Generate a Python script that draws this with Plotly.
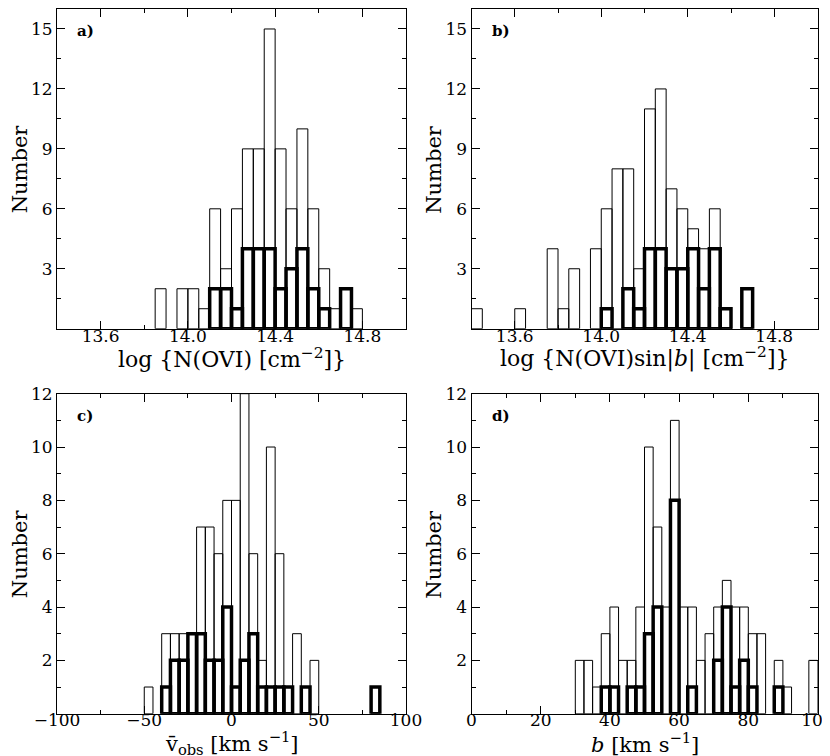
import plotly.graph_objects as go

# ---------------- data ----------------
# Panel a: log N(OVI)  (bin left edges, width 0.05)
a_left = [13.85, 13.90, 13.95, 14.00, 14.05, 14.10, 14.15, 14.20, 14.25, 14.30,
          14.35, 14.40, 14.45, 14.50, 14.55, 14.60, 14.65, 14.70, 14.75]
a_all = [2, 0, 2, 2, 1, 6, 3, 6, 9, 9, 15, 9, 6, 10, 6, 3, 1, 2, 1]
a_sub = [0, 0, 0, 0, 0, 2, 2, 1, 4, 4, 4, 2, 3, 4, 2, 1, 0, 2, 0]

# Panel b: log N(OVI) sin|b|  (width 0.05)
b_left = [13.40, 13.45, 13.50, 13.55, 13.60, 13.65, 13.70, 13.75, 13.80, 13.85,
          13.90, 13.95, 14.00, 14.05, 14.10, 14.15, 14.20, 14.25, 14.30, 14.35,
          14.40, 14.45, 14.50, 14.55, 14.60, 14.65]
b_all = [1, 0, 0, 0, 1, 0, 0, 4, 1, 3, 0, 4, 6, 8, 8, 3, 11, 12, 7, 6, 5, 4, 6, 1, 0, 2]
b_sub = [0, 0, 0, 0, 0, 0, 0, 0, 0, 0, 0, 0, 1, 0, 2, 1, 4, 4, 3, 3, 4, 2, 4, 1, 0, 2]

# Panel c: v_obs (width 5 km/s)
c_left = [-50, -45, -40, -35, -30, -25, -20, -15, -10, -5, 0, 5, 10, 15, 20, 25,
          30, 35, 40, 45, 80]
c_all = [1, 0, 3, 3, 3, 3, 7, 7, 6, 8, 8, 12, 6, 2, 10, 6, 1, 3, 1, 2, 1]
c_sub = [0, 0, 1, 2, 2, 3, 3, 2, 2, 4, 1, 2, 3, 1, 1, 1, 1, 0, 1, 0, 1]

# Panel d: b-value (width 2.5 km/s)
d_left = [30, 32.5, 35, 37.5, 40, 42.5, 45, 47.5, 50, 52.5, 55, 57.5, 60, 62.5,
          65, 67.5, 70, 72.5, 75, 77.5, 80, 82.5, 85, 87.5, 90, 97.5]
d_all = [2, 2, 1, 3, 4, 2, 2, 4, 10, 7, 4, 11, 4, 4, 2, 3, 4, 5, 4, 4, 3, 3, 0, 2, 1, 2]
d_sub = [0, 0, 0, 1, 1, 0, 1, 1, 3, 4, 0, 8, 0, 1, 0, 0, 2, 4, 1, 2, 1, 0, 0, 1, 0, 0]

# ---------------- layout helpers ----------------
W, H = 830, 756
SERIF = "DejaVu Serif"

def xdom(l, r):
    return [l / W, r / W]

def ydom(top, bottom):
    return [1 - bottom / H, 1 - top / H]

def nz(vals):
    # empty bins are not drawn
    return [v if v else None for v in vals]

panels = [
    dict(left=a_left, all=a_all, sub=a_sub, bw=0.05,
         px=(49, 398), py=(1, 320.7), xr=[13.4, 15.0],
         xt=[13.6, 14.0, 14.4, 14.8], xtt=["13.6", "14.0", "14.4", "14.8"], xminor=0.2,
         yr=[0, 16], yt=[3, 6, 9, 12, 15], yminor=1.5,
         xtitle="log {N(OVI) [cm<sup>−2</sup>]}", lab="a)", toff=29, tfs=22, lso=-8),
    dict(left=b_left, all=b_all, sub=b_sub, bw=0.05,
         px=(463.5, 809.5), py=(1, 320.7), xr=[13.4, 15.0],
         xt=[13.6, 14.0, 14.4, 14.8], xtt=["13.6", "14.0", "14.4", "14.8"], xminor=0.2,
         yr=[0, 16], yt=[3, 6, 9, 12, 15], yminor=1.5,
         xtitle="log {N(OVI)sin|<i>b</i>| [cm<sup>−2</sup>]}", lab="b)", toff=29, tfs=22, lso=-8),
    dict(left=c_left, all=c_all, sub=c_sub, bw=5,
         px=(49, 398), py=(385.7, 705.7), xr=[-100, 100],
         xt=[-100, -50, 0, 50, 100], xtt=["−100", "−50", "0", "50", "100"], xminor=25,
         yr=[0, 12], yt=[2, 4, 6, 8, 10, 12], yminor=1,
         xtitle="v\u0304<sub>obs</sub> [km s<sup>−1</sup>]", lab="c)", toff=29.5, tfs=21, lso=-9),
    dict(left=d_left, all=d_all, sub=d_sub, bw=2.5,
         px=(463.5, 809.5), py=(385.7, 705.7), xr=[0, 100],
         xt=[0, 20, 40, 60, 80, 100], xtt=["0", "20", "40", "60", "80", "100"], xminor=10,
         yr=[0, 12], yt=[2, 4, 6, 8, 10, 12], yminor=1,
         xtitle="<i>b</i> [km s<sup>−1</sup>]", lab="d)", toff=29.5, tfs=21, lso=-9),
]

fig = go.Figure()
layout = dict(
    width=W, height=H,
    margin=dict(l=0, r=0, t=0, b=0),
    paper_bgcolor="white", plot_bgcolor="white",
    showlegend=False, barmode="overlay",
    font=dict(family=SERIF, color="black"),
    annotations=[],
)

for i, p in enumerate(panels, start=1):
    xa = "x" if i == 1 else f"x{i}"
    ya = "y" if i == 1 else f"y{i}"
    fig.add_trace(go.Bar(
        x=p["left"], y=nz(p["all"]), width=p["bw"], offset=0,
        xaxis=xa, yaxis=ya,
        marker=dict(color="rgba(0,0,0,0)", line=dict(color="black", width=1)),
        hoverinfo="skip"))
    fig.add_trace(go.Bar(
        x=p["left"], y=nz(p["sub"]), width=p["bw"], offset=0,
        xaxis=xa, yaxis=ya,
        marker=dict(color="rgba(0,0,0,0)", line=dict(color="black", width=3.5)),
        hoverinfo="skip"))

    l, r = p["px"]
    t, b = p["py"]
    common = dict(showline=True, linecolor="black", linewidth=1, mirror="allticks",
                  ticks="inside", ticklen=8, tickwidth=1, tickcolor="black",
                  showgrid=False, zeroline=False, automargin=False,
                  tickfont=dict(family=SERIF, size=17, color="black"))
    layout["xaxis" if i == 1 else f"xaxis{i}"] = dict(
        common, domain=xdom(l, r), range=p["xr"], anchor=ya,
        tickmode="array", tickvals=p["xt"], ticktext=p["xtt"],
        ticklabelstandoff=p["lso"],
        minor=dict(ticks="inside", ticklen=4, tickcolor="black",
                   tickmode="linear", tick0=0, dtick=p["xminor"]))
    layout["yaxis" if i == 1 else f"yaxis{i}"] = dict(
        common, domain=ydom(t, b), range=p["yr"], anchor=xa,
        tickmode="array", tickvals=p["yt"], ticktext=[str(v) for v in p["yt"]],
        minor=dict(ticks="inside", ticklen=4, tickcolor="black",
                   tickmode="linear", tick0=0, dtick=p["yminor"]))
    # x-axis title
    layout["annotations"].append(dict(
        text=p["xtitle"], xref="paper", yref="paper",
        x=(l + r) / 2 / W, y=1 - (b + p["toff"]) / H,
        xanchor="center", yanchor="middle", showarrow=False,
        font=dict(family=SERIF, size=p["tfs"], color="black")))
    # y-axis title
    layout["annotations"].append(dict(
        text="Number", xref="paper", yref="paper",
        x=(l - 37.5) / W, y=1 - (t + b) / 2 / H, textangle=-90,
        xanchor="center", yanchor="middle", showarrow=False,
        font=dict(family=SERIF, size=21, color="black")))
    # panel label
    layout["annotations"].append(dict(
        text="<b>" + p["lab"] + "</b>", xref="paper", yref="paper",
        x=(l + 18) / W, y=1 - (t + 22) / H,
        xanchor="left", yanchor="middle", showarrow=False,
        font=dict(family=SERIF, size=15, color="black")))

fig.update_layout(**layout)
fig.write_html("out.html")
